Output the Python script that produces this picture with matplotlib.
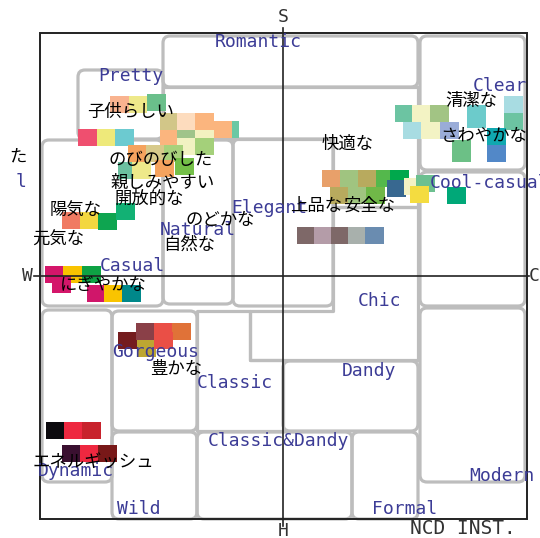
import matplotlib
matplotlib.use("Agg")
import matplotlib.pyplot as plt
from matplotlib.patches import Rectangle, FancyBboxPatch, Polygon

# image scale frame (pixel grid of the scale), W..C across, S..H down
X_W, X_C = 40, 527
Y_S, Y_H = 33, 519
X_MID, Y_MID = 283, 276

# region outlines: rectangles (x0, y0, x1, y1)
region_boxes = [
    (163, 36, 418, 87),    # Romantic
    (420, 36, 525, 170),   # Clear
    (78, 70, 163, 139),    # Pretty
    (42, 140, 163, 306),   # Casual
    (163, 140, 233, 304),  # Natural
    (233, 139, 333, 306),  # Elegant
    (420, 172, 525, 306),  # Cool-casual
    (420, 308, 525, 482),  # Modern
    (42, 310, 112, 482),   # Dynamic
    (112, 311, 197, 431),  # Gorgeous
    (112, 432, 197, 519),  # Wild
    (283, 361, 418, 431),  # Dandy
    (197, 432, 352, 519),  # Classic&Dandy
    (352, 432, 418, 519),  # Formal
]
# L-shaped regions
region_polys = [
    [(163, 87), (418, 87), (418, 207), (333, 207), (333, 139), (163, 139)],
    [(333, 207), (418, 207), (418, 360), (250, 360), (250, 311), (333, 311)],
    [(197, 311), (250, 311), (250, 360), (283, 360), (283, 431), (197, 431)],
]

# image words (English) : (text, left x, centre y)
image_words = [
    ("Romantic", 215, 42), ("Pretty", 98, 76), ("Clear", 473, 86),
    ("Cool-casual", 430, 183), ("Elegant", 231, 208), ("Natural", 160, 230),
    ("Casual", 100, 266), ("Chic", 358, 301), ("Gorgeous", 112, 352),
    ("Classic", 197, 383), ("Dandy", 342, 371), ("Classic&Dandy", 208, 441),
    ("Dynamic", 38, 471), ("Wild", 117, 509), ("Formal", 372, 509),
    ("Modern", 469, 476), ("l", 16, 182),
]

# adjectives (Japanese) : (text, left x, centre y)
adjectives = [
    ("子供らしい", 87, 112), ("のびのびした", 108, 160), ("親しみやすい", 110, 183),
    ("開放的な", 115, 199), ("陽気な", 50, 211), ("元気な", 32, 240),
    ("のどかな", 185, 220), ("自然な", 163, 245), ("にぎやかな", 60, 285),
    ("豊かな", 150, 369), ("エネルギッシュ", 33, 463), ("快適な", 322, 144),
    ("上品な", 290, 206), ("安全な", 343, 206), ("清潔な", 445, 101),
    ("さわやかな", 440, 136), ("た", 9, 157),
]

# colour chips : (x, y, colour) on the scale grid
chips_pretty = [(78, 129, "#ef4f6f"), (96.5, 129, "#eee97a"), (115, 129, "#6ccad0")]
chips_kodomo = [(110, 96, "#f9b38f"), (128.5, 96, "#eee98a"), (147, 94, "#6abf8b")]
chips_romantic = [
    (160, 113, "#d2c688"), (177, 113, "#fddcbe"), (195, 113, "#fbb57e"),
    (220, 121, "#6cc8a4"), (213, 121, "#fbb57e"),
    (160, 130, "#fbb57e"), (177, 130, "#9fc48a"), (195, 130, "#f3f1c0"),
    (177, 138, "#f1f2c2"), (195, 138, "#a4d07a"),
]
chips_nobinobi = [
    (128, 145, "#f5a35e"), (146, 145, "#d7ca8b"), (164, 145, "#a8d27c"),
    (118, 162, "#6cc0a0"), (132, 162, "#eee98a"), (155, 160, "#f5a35e"),
    (175, 158, "#74bf48"),
]
chips_youki = [(62, 212, "#f07a62"), (80, 212, "#f3d740"), (98, 213, "#0ea550"),
               (116, 203, "#12b174")]
chips_nigiyaka = [
    (45, 266, "#d4166a"), (63, 266, "#f9c300"), (82, 266, "#0ea244"),
    (52, 276, "#d4166a"), (87, 285, "#d0166a"), (104, 285, "#f9c400"),
    (122, 285, "#00888a"),
]
chips_gorgeous = [
    (118, 332, "#741c1e"), (136, 323, "#8a4048"), (154, 323, "#ea4f46"),
    (172, 323, "#e07238"), (137, 340, "#bda632"), (154, 332, "#ea4f46"),
]
chips_energy = [
    (46, 422, "#0c0a0e"), (64, 422, "#ee2840"), (82, 422, "#c8222c"),
    (62, 445, "#3a1030"), (80, 445, "#ee2840"), (98, 445, "#781818"),
]
chips_kaiteki = [
    (322, 170, "#e8a06a"), (340, 170, "#a0c480"), (358, 170, "#b8aa5e"),
    (376, 170, "#54b84c"), (390, 170, "#00a84c"),
    (330, 187, "#b8aa5e"), (348, 187, "#a0c480"), (366, 187, "#70b848"),
    (387, 180, "#386890"), (404, 178, "#f4f2c4"), (416, 175, "#6cc090"),
    (410, 186, "#f4dc40"), (447, 187, "#00a878"),
]
chips_jouhin = [(297, 227, "#7e6868"), (314, 227, "#b49ca8"), (331, 227, "#7e6868"),
                (348, 227, "#a8b0ac"), (365, 227, "#6a8cb0")]
chips_clear = [
    (395, 105, "#6cc4a2"), (412, 105, "#f3f3c4"), (430, 105, "#a2c484"),
    (403, 122, "#a8dce2"), (421, 122, "#f3f3c4"), (440, 122, "#9aacd8"),
    (467, 105, "#6ccbcb"), (467, 111, "#6ccbcb"), (504, 96, "#a8dce2"),
    (504, 113, "#6cc4a2"), (487, 128, "#10a8b0"), (452, 140, "#6cc086"),
    (452, 145, "#6cc086"), (487, 145, "#5288c8"),
]
chip_groups = [chips_pretty, chips_kodomo, chips_romantic, chips_nobinobi, chips_youki,
               chips_nigiyaka, chips_gorgeous, chips_energy, chips_kaiteki,
               chips_jouhin, chips_clear]
CHIP_W, CHIP_H = 18.5, 17

GRAY = "#bdbdbd"
BLUE = "#3c3c96"

fig = plt.figure(figsize=(5.4, 5.38), dpi=100)
ax = fig.add_axes([0, 0, 1, 1])
ax.set_xlim(0, 540)
ax.set_ylim(538, 0)
ax.axis("off")

for x0, y0, x1, y1 in region_boxes:
    ax.add_patch(FancyBboxPatch((x0, y0), x1 - x0, y1 - y0,
                                boxstyle="round,pad=0,rounding_size=7",
                                fill=False, ec=GRAY, lw=2.3, zorder=1))
for pts in region_polys:
    ax.add_patch(Polygon(pts, closed=True, fill=False, ec=GRAY, lw=2.3,
                         joinstyle="round", zorder=1))

# frame and the two axes of the scale
ax.add_patch(Rectangle((X_W, Y_S), X_C - X_W, Y_H - Y_S, fill=False,
                       ec="#222222", lw=1.4, zorder=3))
ax.plot([X_MID, X_MID], [Y_S - 5, Y_H + 7], color="#222222", lw=1.2, zorder=3)
ax.plot([X_W - 6, X_C + 2], [Y_MID, Y_MID], color="#222222", lw=1.2, zorder=3)

for grp in chip_groups:
    for x, y, c in grp:
        ax.add_patch(Rectangle((x, y), CHIP_W, CHIP_H, fc=c, ec="none", zorder=2))

for t, x, y in image_words:
    ax.text(x, y, t, family="DejaVu Sans Mono", fontsize=13, color=BLUE,
            ha="left", va="center", zorder=4)

for t, x, y in adjectives:
    ax.text(x, y, t, family=["Noto Sans CJK JP", "DejaVu Sans"], fontsize=12.5,
            color="black", ha="left", va="center", zorder=5)

axis_kw = dict(family="DejaVu Sans Mono", fontsize=13, color="#333333",
               va="center", zorder=4)
ax.text(X_MID, 17, "S", ha="center", **axis_kw)
ax.text(X_MID, 531, "H", ha="center", **axis_kw)
ax.text(27, Y_MID, "W", ha="center", **axis_kw)
ax.text(529, Y_MID, "C", ha="left", **axis_kw)
ax.text(410, 529, "NCD INST.", ha="left", family="DejaVu Sans Mono",
        fontsize=14, color="#333333", va="center", zorder=4)

fig.savefig("out.png", dpi=100)
